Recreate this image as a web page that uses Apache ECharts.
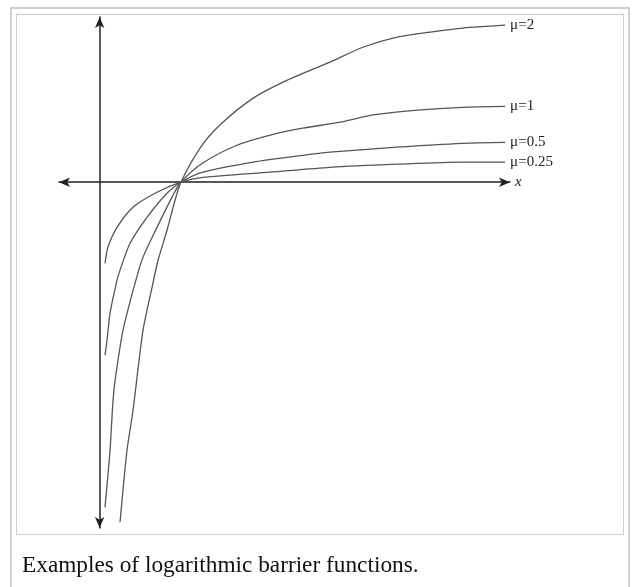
<!DOCTYPE html>
<html>
<head>
<meta charset="utf-8">
<script src="https://cdn.jsdelivr.net/npm/echarts@6/dist/echarts.min.js"></script>
<style>
html,body{margin:0;padding:0;background:#fff;}
#outer{position:absolute;left:10px;top:7px;width:616px;height:600px;border:2px solid #cfcfcf;border-bottom:none;}
#inner{position:absolute;left:16px;top:14px;width:606px;height:519px;border:1px solid #cfcfcf;}
#chart{position:absolute;left:0;top:0;width:632px;height:587px;}
</style>
</head>
<body>
<div id="outer"></div>
<div id="inner"></div>
<div id="chart"></div>
<script>
// Curve labels
var seriesNames = ['μ=0.25', 'μ=0.5', 'μ=1', 'μ=2'];
var captionText = 'Examples of logarithmic barrier functions.';
var axisXName = 'x';

// Points: [x, y]
var mu025 = [[0.066,-1.69],[0.103,-1.35],[0.214,-0.94],[0.411,-0.52],[0.706,-0.21],[1.0,0],[1.27,0.10],[2.10,0.21],[2.835,0.31],[3.66,0.375],[4.47,0.42],[4.99,0.42]];
var mu05 = [[0.066,-3.60],[0.091,-3.29],[0.128,-2.73],[0.214,-2.04],[0.251,-1.83],[0.374,-1.27],[0.583,-0.73],[0.829,-0.23],[1.0,0],[1.27,0.21],[1.89,0.42],[2.50,0.56],[2.835,0.625],[3.66,0.73],[4.47,0.81],[4.99,0.83]];
var mu1 = [[0.066,-6.77],[0.128,-5.58],[0.165,-4.54],[0.19,-4.125],[0.288,-3.08],[0.436,-2.10],[0.534,-1.56],[0.706,-0.94],[0.891,-0.31],[1.0,0],[1.27,0.40],[1.69,0.77],[2.10,0.98],[2.50,1.125],[2.96,1.25],[3.365,1.40],[3.91,1.50],[4.47,1.56],[4.99,1.58]];
var mu2 = [[0.251,-7.08],[0.337,-5.58],[0.411,-4.75],[0.534,-3.08],[0.645,-2.19],[0.719,-1.625],[0.829,-1.0],[0.928,-0.375],[1.0,0],[1.236,0.71],[1.48,1.19],[1.89,1.75],[2.31,2.125],[2.835,2.5],[3.24,2.81],[3.66,3.02],[4.07,3.125],[4.47,3.21],[4.99,3.27]];
var curves = [mu025, mu05, mu1, mu2];

var chart = echarts.init(document.getElementById('chart'), null, {renderer: 'canvas'});
var serif = 'Liberation Serif';
var series = curves.map(function (d, i) {
  return {
    type: 'line',
    name: seriesNames[i],
    data: d,
    showSymbol: false,
    smooth: 0.25,
    lineStyle: {color: '#555', width: 1.3},
    endLabel: {
      show: true,
      formatter: seriesNames[i],
      fontFamily: serif,
      fontSize: 15,
      color: '#222',
      distance: 5
    },
    emphasis: {disabled: true}
  };
});

chart.setOption({
  animation: false,
  backgroundColor: 'transparent',
  title: {
    text: captionText,
    left: 17,
    top: 549,
    textStyle: {fontFamily: serif, fontSize: 23.3, fontWeight: 'normal', color: '#111'}
  },
  grid: {left: 59, top: 17, width: 451, height: 511},
  xAxis: {
    type: 'value',
    min: -0.5,
    max: 5.05,
    name: axisXName,
    nameLocation: 'end',
    nameGap: 5,
    nameTextStyle: {fontFamily: serif, fontSize: 15, fontStyle: 'italic', color: '#222'},
    axisLine: {show: true, onZero: true, symbol: ['arrow', 'arrow'], symbolSize: [7, 11], lineStyle: {color: '#222', width: 1.5}},
    axisTick: {show: false},
    axisLabel: {show: false},
    splitLine: {show: false}
  },
  yAxis: {
    type: 'value',
    min: -7.2,
    max: 3.44,
    axisLine: {show: true, onZero: true, symbol: ['arrow', 'arrow'], symbolSize: [7, 11], lineStyle: {color: '#222', width: 1.5}},
    axisTick: {show: false},
    axisLabel: {show: false},
    splitLine: {show: false}
  },
  series: series
});
</script>
</body>
</html>
